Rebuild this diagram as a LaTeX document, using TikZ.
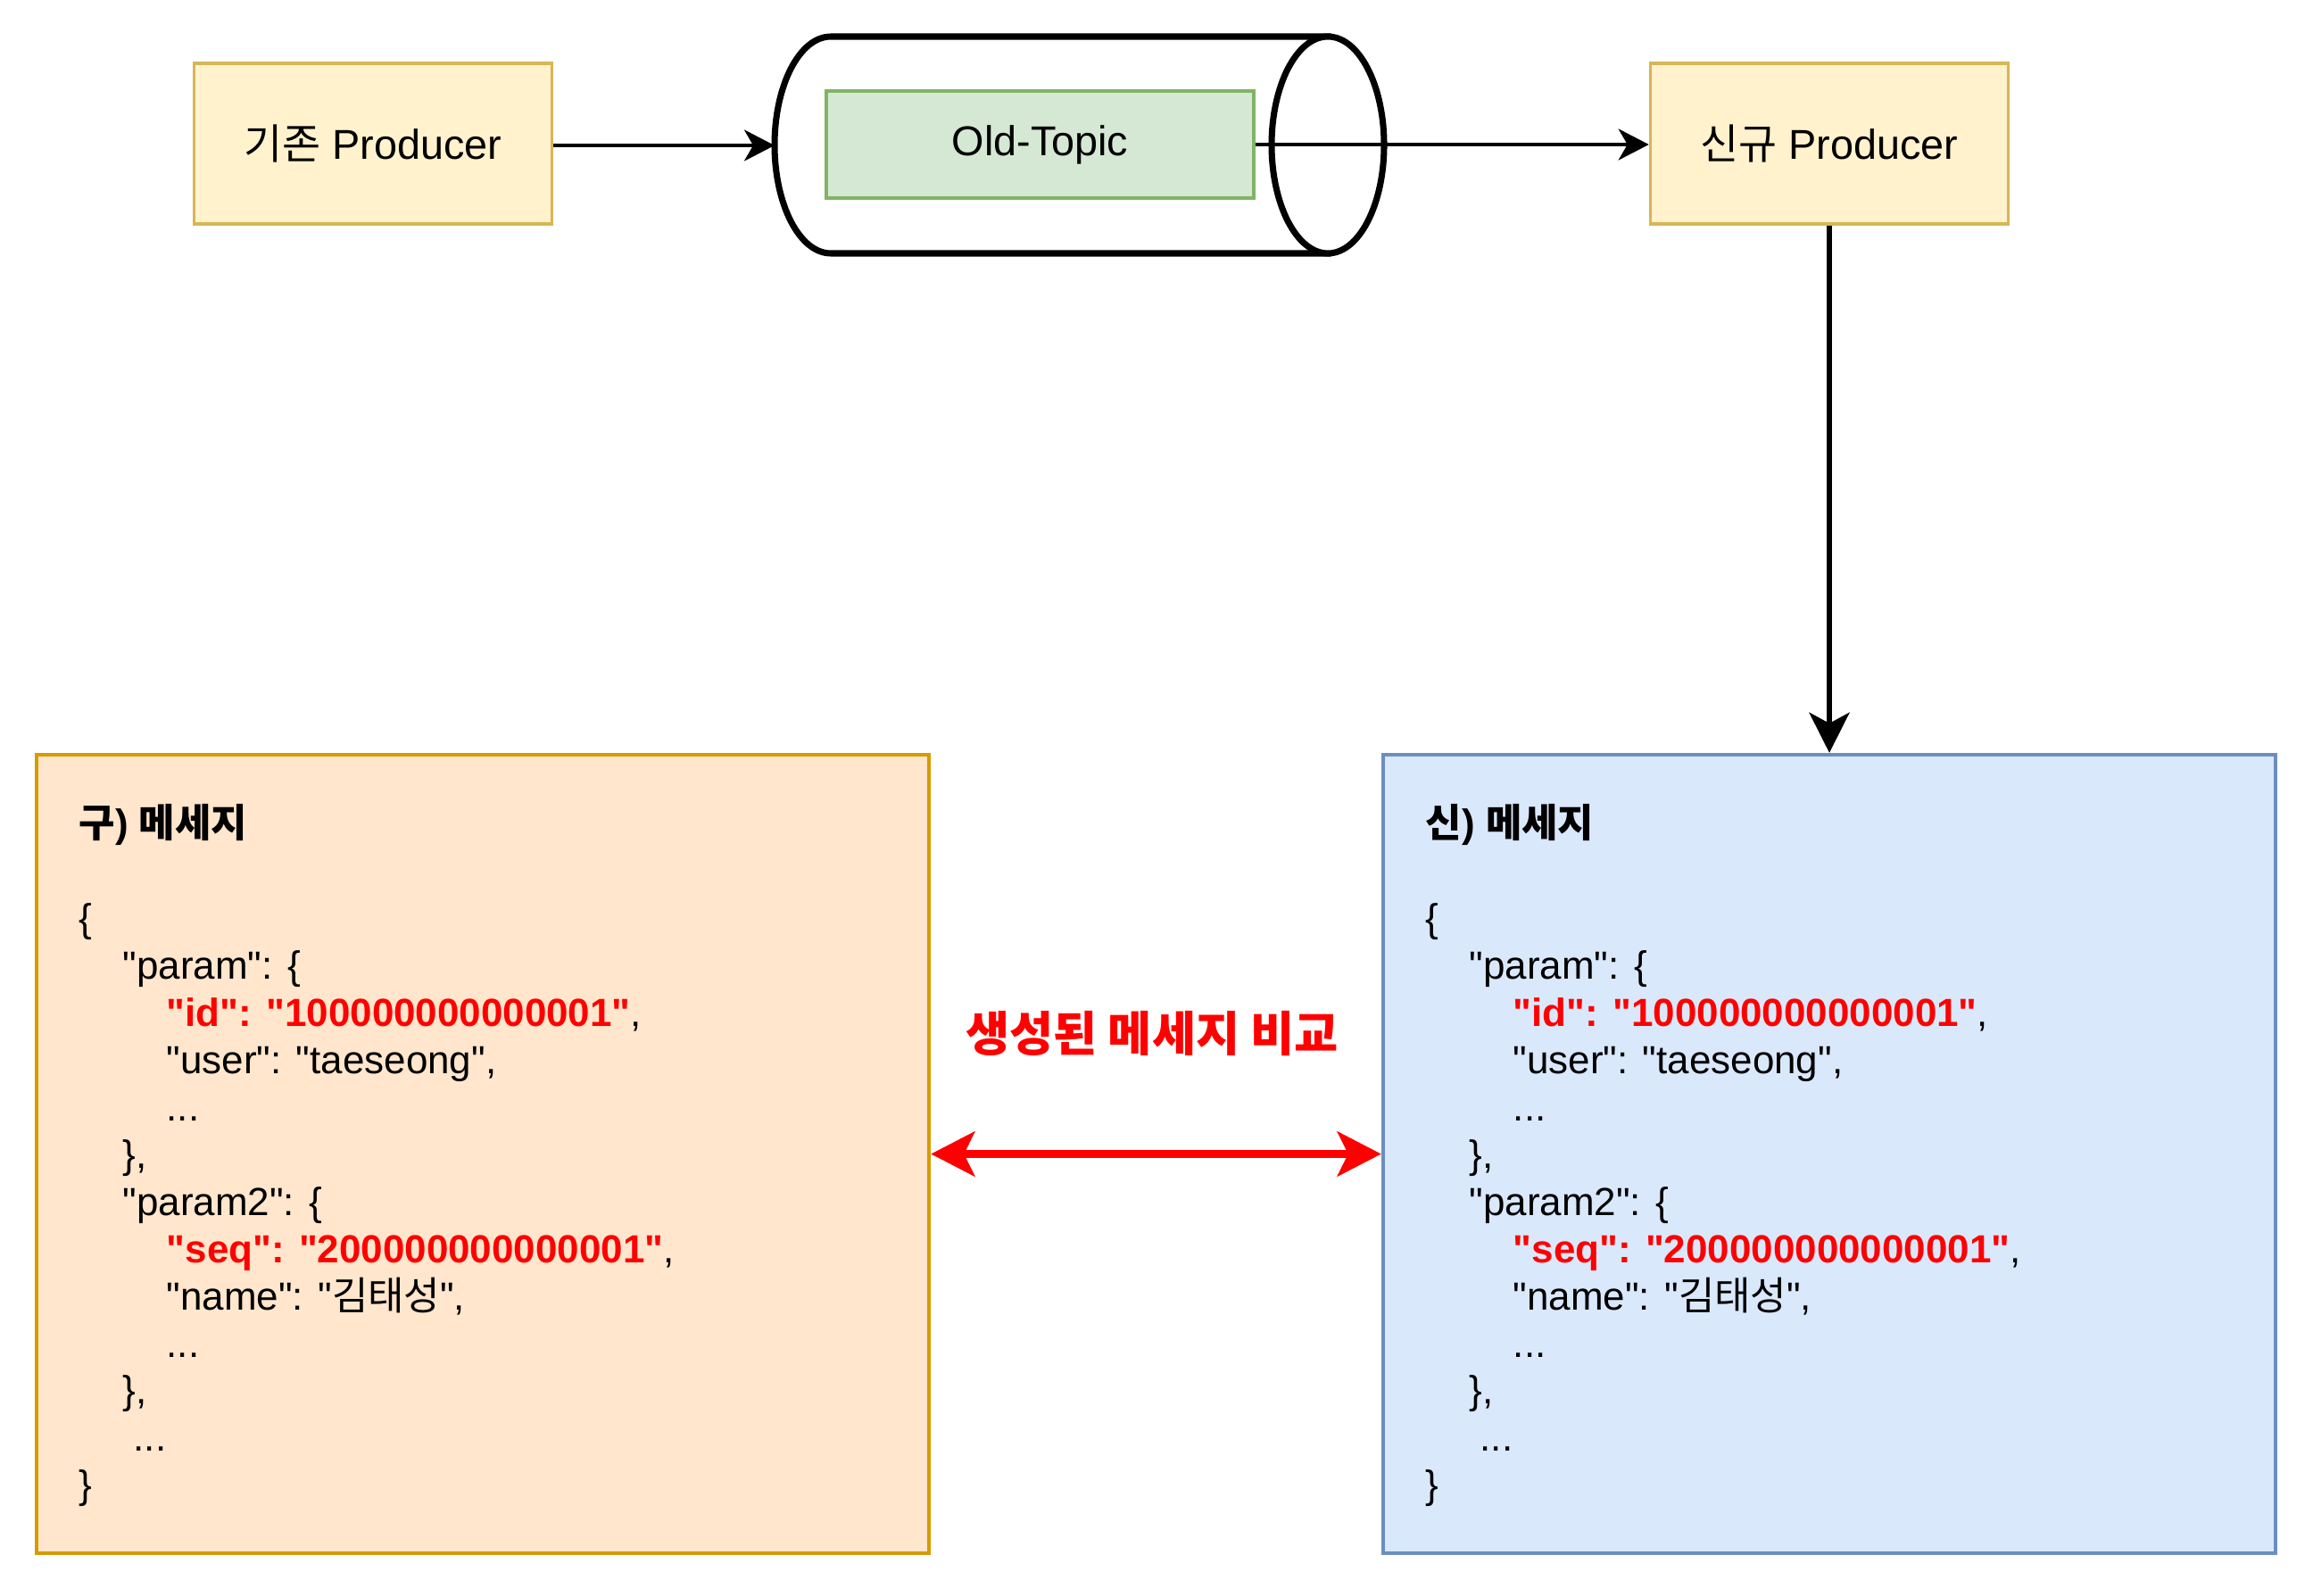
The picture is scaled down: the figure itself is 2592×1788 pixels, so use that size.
\documentclass[tikz,border=0pt]{standalone}
\usepackage{fontspec}
\setmainfont{Liberation Sans}
\newfontfamily\kr{Noto Sans CJK KR}
\usepackage{tikz}
\usetikzlibrary{arrows.meta,positioning}

\definecolor{prodfill}{HTML}{FFF2CC}
\definecolor{prodedge}{HTML}{D6B656}
\definecolor{topicfill}{HTML}{D5E8D4}
\definecolor{topicedge}{HTML}{82B366}
\definecolor{oldfill}{HTML}{FFE6CC}
\definecolor{oldedge}{HTML}{D79B00}
\definecolor{newfill}{HTML}{DAE8FC}
\definecolor{newedge}{HTML}{6C8EBF}

\newcommand{\q}{\textquotedbl}
\newcommand{\redkey}[1]{\textcolor{red}{\textbf{#1}}}
\newcommand{\indA}{\hspace*{0.49cm}}
\newcommand{\indB}{\hspace*{0.98cm}}
\newcommand{\msgbody}[1]{%
  \textbf{{\kr #1}) {\kr 메세지}}\\
  \mbox{}\\
  \{\\
  \indA\q param\q: \{\\
  \indB\redkey{\q id\q: \q 100000000000001\q},\\
  \indB\q user\q: \q taeseong\q,\\
  \indB...\\
  \indA\},\\
  \indA\q param2\q: \{\\
  \indB\redkey{\q seq\q: \q 200000000000001\q},\\
  \indB\q name\q: \q{\kr 김태성}\q,\\
  \indB...\\
  \indA\},\\
  \hspace*{0.61cm}...\\
  \}}

\tikzset{
  producer/.style={draw=prodedge, fill=prodfill, line width=0.95pt,
    minimum width=4.01cm, minimum height=1.8cm, inner sep=0pt,
    font=\fontsize{13.3}{16}\selectfont},
  topicbox/.style={draw=topicedge, fill=topicfill, line width=0.95pt,
    minimum width=4.79cm, minimum height=1.2cm, inner sep=0pt,
    font=\fontsize{13.3}{16}\selectfont},
  cyl/.style={line width=2pt, fill=white},
  msgbox/.style={line width=1.1pt, minimum width=10cm, minimum height=8.95cm, inner sep=0pt},
  msgtext/.style={anchor=north west, inner sep=0pt, align=left,
    font=\fontsize{12.5}{15.05}\selectfont},
  flow/.style={-{Stealth[length=0.34cm, width=0.35cm, inset=0.1cm]}, line width=1.1pt},
  thickflow/.style={-{Stealth[length=0.45cm, width=0.45cm, inset=0.12cm]}, line width=1.7pt},
  cmp/.style={{Stealth[length=0.49cm, width=0.5cm, inset=0.12cm]}-{Stealth[length=0.49cm, width=0.5cm, inset=0.12cm]},
    line width=2.4pt, red},
  cmplabel/.style={text=red, font=\kr\bfseries\fontsize{15.2}{17}\selectfont}
}

\begin{document}
\begin{tikzpicture}[x=0.01cm, y=-0.01cm]
  \useasboundingbox (0,0) rectangle (2592,1788);

  % top row
  \node[producer] (oldprod) at (418,161) {{\kr 기존} Producer};
  \node[producer] (newprod) at (2050,161) {{\kr 신규} Producer};

  % topic cylinder
  \draw[cyl] (931,41) -- (1488,41) -- (1488,284) -- (931,284)
    arc[start angle=90, end angle=270, x radius=63, y radius=121.5] -- cycle;
  \draw[cyl] (1488,162.5) ellipse [x radius=63, y radius=121.5];
  \coordinate (cylw) at (868,163);
  \node[topicbox] (topic) at (1165.5,162) {Old-Topic};

  \draw[flow] (oldprod.east |- cylw) -- (cylw);
  \draw[flow] (topic) -- (topic -| newprod.west);

  % messages
  \node[msgbox, draw=oldedge, fill=oldfill] (oldmsg) at (541,1293.5) {};
  \node[msgbox, draw=newedge, fill=newfill] (newmsg) at (2050,1293.5) {};
  \node[msgtext] (oldtxt) at (88,901) {\msgbody{구}};
  \node[msgtext] (newtxt) at (1597,901) {\msgbody{신}};

  \draw[thickflow] (newprod) -- (newmsg);
  \draw[cmp] (oldmsg) -- (newmsg);
  \node[cmplabel] (cmplbl) at (1291,1158) {생성된 메세지 비교};
\end{tikzpicture}
\end{document}
